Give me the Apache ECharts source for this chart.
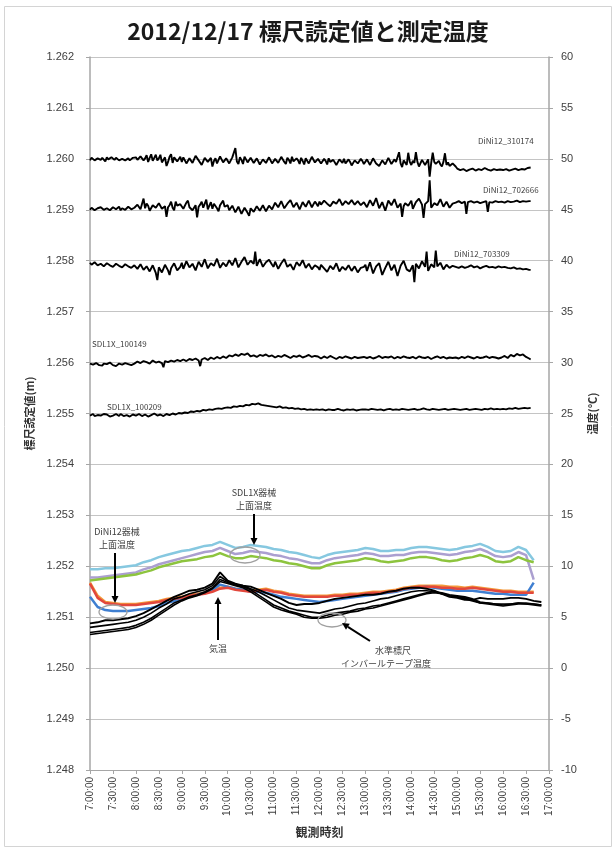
<!DOCTYPE html>
<html>
<head>
<meta charset="utf-8">
<script src="https://cdn.jsdelivr.net/npm/echarts/dist/echarts.min.js"></script>
<style>
html, body { margin: 0; padding: 0; background: #ffffff; }
#chart { width: 616px; height: 852px; }
</style>
</head>
<body>
<div id="chart"></div>
<script>
// ---- Staff readings (m), sampled every 2 minutes from 7:00 to 16:36 ----
// Each array holds the deviation from the instrument's nominal reading, in 0.01 mm.
const readingStartMin = 420;
const readingStepMin = 2;

const nominalDini310174 = 1.2600;
const devDini310174 = [
  -3,2,1,-3,-4,1,0,-2,2,-1, -5,3,-1,-4,3,0,-2,2,1,-3, -4,0,2,-3,-1,1,-3,-1,2,0,
  3,-2,-4,5,6,-3,1,7,-6,2, 9,-4,2,8,-3,1,8,-7,-5,3, -14,-6,4,9,-8,3,6,-5,-2,4,
  -6,3,4,-9,-10,1,2,-8,-7,6, 5,-3,-4,-12,-11,2,3,-6,-8,2, -15,-4,1,-9,-6,5,4,-7,-9,1,
  -2,-9,-8,3,6,21,-5,-10,3,-2, -10,4,-1,-7,-7,2,5,-8,-9,1, -2,-11,-12,-1,2,-8,-6,3,-3,-9,
  -9,0,1,-8,-7,4,3,-6,-10,2, -2,-9,4,-5,-8,1,-3,-10,2,-4, -11,1,-1,-9,-6,4,3,-7,-8,0,
  -2,-9,-10,0,-4,-11,1,-6,-9,-2, -5,-12,-12,-1,-3,-8,0,-9,-8,-1, -6,-13,-11,-3,-2,-9,-7,0,-4,-10,
  -10,-1,-3,-12,-13,1,0,-9,-8,-14, -15,-3,-2,-11,-9,2,4,-10,-12,-1, -6,-4,13,-9,-16,-3,-5,-12,12,-6,
  -12,-4,-8,13,-6,-15,-14,-2,-3,-12, -9,-1,-35,-8,12,-6,-10,-13,-4,-11, -15,-6,11,-12,-7,-14,-13,-9,-9,-15,
  -19,-22,-22,-20,-20,-23,-24,-21,-21,-19, -19,-22,-23,-20,-20,-22,-22,-19,-18,-21, -21,-23,-23,-20,-20,-22,-22,-20,-21,-23,
  -22,-20,-20,-23,-23,-21,-21,-19,-19,-22, -22,-20,-20,-21,-21,-19,-18,-17,-17
];

const nominalDini702666 = 1.2590;
const devDini702666 = [
  0,4,3,-1,-1,3,2,5,4,0, 0,3,3,-1,1,5,5,1,2,6, -1,3,4,0,2,6,6,1,3,4,
  5,10,9,1,-2,22,3,12,8,-2, -2,9,11,4,6,13,14,2,1,7, -14,5,9,16,4,-1,16,8,7,11,
  12,2,3,14,18,5,6,-1,-1,9, -15,6,10,16,4,12,20,1,8,15, 2,12,15,3,-3,9,11,18,6,4,
  9,-1,0,8,7,-5,-4,6,5,-8, -8,4,2,-6,-12,3,6,-4,-3,7, 8,-2,1,9,10,-3,-2,8,7,1,
  4,14,13,5,7,17,16,3,2,12, 11,19,18,5,6,14,12,1,3,15, 14,6,9,18,17,5,8,16,12,7,
  16,10,11,18,19,12,13,7,8,16, 17,12,14,21,20,9,10,17,15,11, 12,19,18,10,13,17,16,9,11,15,
  15,5,6,19,20,8,9,23,22,3, 4,15,14,-2,-1,18,17,9,10,21, 20,4,5,12,-14,7,13,16,8,11,
  18,2,3,15,14,22,21,10,-16,11, 9,17,58,4,2,13,16,9,12,21, 20,6,7,16,15,4,5,12,11,14,
  14,17,16,13,13,16,-8,15,15,17, 17,14,14,16,16,13,13,15,15,17, -4,15,16,14,14,17,17,15,15,16,
  16,14,14,17,17,15,15,16,16,18, 18,15,15,17,17,16,16,17,17
];

const nominalDini703309 = 1.2580;
const devDini703309 = [
  -4,-8,-7,-3,-3,-9,-10,-6,-6,-11, -10,-5,-5,-9,-8,-12,-11,-6,-6,-10, -9,-13,-12,-7,-7,-11,-10,-14,-13,-9,
  -9,-16,-15,-7,-8,-18,-17,-11,-12,-21, -20,-9,-10,-24,-38,-13,-14,-23,-22,-8, -9,-19,-28,-15,-16,-5,-6,-19,-18,-12,
  -4,-16,-15,-1,-2,-13,-12,-6,-7,-19, -18,-2,-3,-12,-11,3,2,-15,-14,-5, -6,-10,-9,4,3,-14,-13,-4,-5,-11,
  -10,1,0,-9,-8,5,4,-13,-12,-2, -3,7,6,-8,-7,0,-1,-6,18,-10, -9,3,2,-12,-11,-3,-4,2,1,-8,
  -12,-2,-3,-16,-15,-5,-6,3,2,-12, -11,-7,-8,-18,-17,-3,-4,-10,-9,1, 0,-14,-13,-6,-7,-17,-16,-9,-10,-13,
  -18,-8,-9,-15,-14,-22,-21,-10,-11,-17, -16,-5,-6,-21,-20,-12,-13,-18,-17,-9, -10,-20,-19,-11,-12,-23,-22,-14,-15,-12,
  -8,-20,-19,-3,-4,-25,-24,-11,-12,-5, -6,-28,-27,-14,-15,-2,-3,-19,-18,-8, -9,-30,-29,-10,-11,0,-1,-17,-16,-21,
  -20,-9,-42,-6,-7,-15,-14,-1,-2,-12, 18,-20,-19,-7,-8,-13,20,-11,-12,-4, -5,-17,-16,-8,-9,-14,-13,-10,-11,-12,
  -10,-14,-13,-11,-11,-14,-14,-12,-12,-9, -9,-13,-13,-11,-11,-15,-15,-12,-12,-10, -10,-13,-13,-12,-12,-14,-14,-11,-11,-13,
  -13,-12,-12,-14,-14,-15,-15,-13,-13,-16, -16,-15,-15,-17,-17,-16,-16,-18,-18
];

const nominalSdl100149 = 1.2560;
const devSdl100149 = [
  -2,-5,-4,-1,-1,-4,-5,-6,-6,-2, -2,-3,-3,0,0,-5,-6,-7,-6,-2, -2,-4,-3,-1,-1,-3,-4,-5,-5,-2,
  0,2,2,-1,-1,3,3,1,1,-2, -2,4,4,0,0,2,2,-1,-9,3, 3,1,1,4,4,2,2,5,5,3,
  4,6,6,3,3,7,7,5,5,8, 8,4,-7,6,6,9,9,5,5,10, 10,7,7,11,11,8,8,12,12,9,
  10,14,14,12,12,16,16,13,13,17, 20,15,15,18,18,12,12,14,14,11, 11,15,15,13,13,16,16,12,12,14,
  14,10,10,13,13,11,11,15,15,12, 12,9,9,13,13,11,11,14,14,10, 10,12,12,15,15,11,11,13,13,12,
  11,8,8,12,12,9,9,13,13,10, 10,7,7,11,11,9,9,12,12,10, 10,8,8,11,11,9,9,10,10,11,
  12,9,9,11,11,8,8,10,10,13, 13,9,9,11,11,10,10,12,12,8, 8,11,11,9,9,12,12,10,10,9,
  9,11,11,8,8,12,12,10,10,9, 9,11,11,7,7,10,10,12,12,9, 9,11,11,8,8,10,10,9,9,10,
  10,8,8,11,11,9,9,12,12,10, 10,8,8,11,11,9,9,10,10,12, 12,9,9,11,11,10,10,8,8,10,
  11,13,13,9,9,15,15,12,12,17, 17,14,14,16,16,11,11,8,6
];

const nominalSdl100209 = 1.2550;
const devSdl100209 = [
  -4,-2,-1,-5,-6,-3,-2,-4,-5,-1, 0,-2,-3,-6,-7,-4,-2,-1,-4,-5, -1,-2,-5,-4,-3,-5,-6,-3,-2,-4,
  -4,-2,-1,-3,-5,-4,-2,-3,-6,-5, -3,-1,0,-3,-4,-3,-2,-4,-5,-3, -1,-2,-3,-1,0,-1,-2,-1,1,0,
  0,1,2,2,1,3,4,5,3,4, 5,6,4,5,7,8,6,7,8,9, 7,8,9,10,10,11,9,10,11,12,
  12,13,11,12,14,15,13,14,15,16, 14,15,17,18,16,17,19,20,18,19, 20,19,17,18,16,17,15,16,14,15,
  13,14,12,13,14,12,11,12,12,11, 10,11,11,10,9,10,10,9,8,9, 9,8,7,8,8,7,7,8,8,9,
  7,8,8,7,6,7,8,9,7,8, 7,6,9,8,7,6,6,7,8,7, 7,9,8,6,6,7,7,8,8,7,
  8,7,7,8,9,8,8,7,7,8, 8,9,6,7,8,9,9,8,7,8, 8,7,7,8,9,8,8,7,7,8,
  8,9,9,8,7,8,8,9,10,9, 8,7,7,8,9,8,8,7,7,8, 8,9,9,8,7,8,8,9,9,8,
  8,7,7,8,8,9,9,7,7,8, 8,9,9,8,8,7,7,9,9,8, 8,10,10,8,8,9,9,8,8,9,
  9,8,8,10,10,9,9,11,11,9, 9,10,10,11,11,10,10,11,11
];

// ---- Temperatures (°C), sampled every 10 minutes from 7:00 ----
const tempStartMin = 420;
const tempStepMin = 10;

const sdlTopCyan = [
  9.7,9.7,9.8,9.8,9.9,10.0, 10.1,10.4,10.6,10.9,11.1,11.3,
  11.5,11.6,11.8,12.0,12.1,12.4, 12.1,11.8,11.9,12.1,12.0,11.9,
  11.7,11.6,11.4,11.3,11.1,10.9, 10.8,11.1,11.3,11.4,11.5,11.6,
  11.8,11.7,11.5,11.5,11.6,11.6, 11.8,11.9,11.9,11.8,11.7,11.6,
  11.7,11.9,12.0,12.2,11.9,11.5, 11.4,11.5,11.9,11.6,10.6
];
const sdlTopPurple = [
  8.9,8.9,9.0,9.1,9.2,9.3, 9.4,9.7,9.9,10.2,10.4,10.6,
  10.8,11.0,11.2,11.4,11.5,11.8, 11.5,11.2,11.3,11.5,11.4,11.3,
  11.1,11.0,10.8,10.7,10.5,10.3, 10.3,10.6,10.8,10.9,11.0,11.1,
  11.3,11.2,11.0,11.0,11.1,11.1, 11.3,11.4,11.4,11.3,11.2,11.1,
  11.2,11.4,11.5,11.7,11.4,11.0, 10.9,11.0,11.4,11.1,8.7
];
const sdlTopGreen = [
  8.6,8.7,8.8,8.9,9.0,9.1, 9.2,9.4,9.6,9.9,10.1,10.3,
  10.5,10.6,10.7,10.9,11.0,11.3, 11.0,10.8,10.8,11.0,10.9,10.8,
  10.6,10.5,10.3,10.2,10.0,9.8, 9.8,10.1,10.3,10.4,10.5,10.6,
  10.8,10.7,10.5,10.4,10.5,10.6, 10.8,10.9,10.9,10.8,10.6,10.5,
  10.6,10.8,10.9,11.1,10.9,10.5, 10.4,10.5,10.9,10.6,10.4
];
const diniTopOrange = [
  8.4,7.1,6.5,6.4,6.3,6.3, 6.3,6.4,6.5,6.6,6.8,6.9,
  7.0,7.2,7.3,7.4,7.6,7.9, 8.0,7.8,7.7,7.6,7.7,7.8,
  7.6,7.5,7.3,7.2,7.1,7.1, 7.1,7.1,7.2,7.2,7.3,7.3,
  7.4,7.5,7.5,7.6,7.7,7.9, 8.0,8.1,8.1,8.1,8.1,8.0,
  8.0,7.9,8.0,7.9,7.8,7.7, 7.6,7.6,7.5,7.5,7.5
];
const diniTopRed = [
  8.3,6.9,6.4,6.3,6.2,6.2, 6.2,6.3,6.4,6.5,6.7,6.8,
  6.9,7.1,7.2,7.3,7.5,7.8, 7.9,7.7,7.6,7.5,7.6,7.7,
  7.5,7.4,7.2,7.1,7.0,7.0, 7.0,7.0,7.1,7.1,7.2,7.2,
  7.3,7.4,7.4,7.5,7.6,7.8, 7.9,8.0,8.0,8.0,7.9,7.9,
  7.8,7.8,7.9,7.8,7.7,7.6, 7.5,7.5,7.4,7.4,7.4
];
const diniTopBlue = [
  7.0,6.0,5.7,5.6,5.6,5.6, 5.7,5.8,5.9,6.1,6.4,6.6,
  6.8,7.0,7.2,7.4,7.7,8.2, 8.0,7.8,7.7,7.5,7.5,7.4,
  7.2,7.0,6.9,6.8,6.7,6.6, 6.5,6.6,6.7,6.8,6.9,7.0,
  7.1,7.2,7.3,7.4,7.5,7.7, 7.8,7.9,8.0,7.9,7.8,7.7,
  7.6,7.6,7.6,7.5,7.4,7.3, 7.3,7.2,7.2,7.2,8.4
];
const airTemp = [
  4.4,4.5,4.7,4.7,4.8,4.9, 5.1,5.4,5.8,6.2,6.6,7.0,
  7.3,7.6,7.7,7.9,8.3,9.4, 8.6,8.3,8.1,8.0,7.7,7.4,
  7.1,6.8,6.4,6.2,6.3,6.3, 6.4,6.6,6.8,6.9,7.0,7.1,
  7.2,7.2,7.3,7.5,7.6,7.8, 7.9,7.9,7.8,7.6,7.3,7.0,
  6.9,6.7,6.7,6.9,6.8,6.8, 6.8,6.9,6.9,6.8,6.6,6.5
];
const invarTape1 = [
  4.0,4.1,4.2,4.3,4.4,4.5, 4.7,5.0,5.4,5.9,6.3,6.8,
  7.0,7.3,7.5,7.7,8.1,9.0, 8.5,8.2,8.1,7.8,7.5,7.1,
  6.7,6.3,5.9,5.7,5.6,5.5, 5.4,5.6,5.8,5.9,6.1,6.3,
  6.4,6.6,6.8,6.9,7.1,7.3, 7.5,7.6,7.6,7.5,7.3,7.1,
  7.0,6.8,6.6,6.4,6.4,6.3, 6.3,6.3,6.4,6.3,6.3,6.2
];
const invarTape2 = [
  3.5,3.6,3.7,3.8,3.9,4.0, 4.2,4.5,4.9,5.4,5.9,6.4,
  6.7,7.0,7.2,7.5,7.9,8.7, 8.4,8.2,8.0,7.7,7.2,6.7,
  6.2,5.9,5.6,5.4,5.2,5.0, 5.0,5.2,5.4,5.5,5.6,5.8,
  5.9,6.1,6.2,6.4,6.6,6.8, 7.0,7.2,7.4,7.5,7.4,7.2,
  7.1,7.0,6.8,6.5,6.4,6.3, 6.2,6.3,6.4,6.4,6.3,6.2
];
const invarTape3 = [
  3.3,3.4,3.5,3.6,3.7,3.8, 4.0,4.3,4.7,5.2,5.7,6.2,
  6.6,6.9,7.1,7.4,7.8,8.5, 8.3,8.1,7.9,7.5,7.0,6.5,
  6.0,5.7,5.5,5.3,5.0,4.9, 4.9,5.0,5.2,5.3,5.5,5.6,
  5.8,5.9,6.1,6.3,6.5,6.7, 6.9,7.1,7.3,7.4,7.3,7.1,
  7.0,6.9,6.7,6.4,6.3,6.2, 6.1,6.2,6.3,6.3,6.2,6.1
];

// ---- Axis ranges ----
const xMinMin = 420, xMaxMin = 1020, xTickMin = 30;
const leftMin = 1.248, leftMax = 1.262, leftStep = 0.001;
const rightMin = -10, rightMax = 60, rightStep = 5;

function readingPairs(nominal, devs) {
  return devs.map((d, i) => [readingStartMin + i * readingStepMin, +(nominal + d / 100000).toFixed(5)]);
}
function tempPairs(values) {
  return values.map((v, i) => [tempStartMin + i * tempStepMin, v]);
}
function fmtTime(m) {
  const h = Math.floor(m / 60), mm = m % 60;
  return h + ':' + (mm < 10 ? '0' : '') + mm + ':00';
}

const CJK = '"Noto Sans CJK JP", "Noto Sans", sans-serif';
const LAT = '"Liberation Sans", Arial, sans-serif';
const axisGray = '#a6a6a6';

function tempLine(name, values, color, width, z) {
  return {
    name, type: 'line', yAxisIndex: 1, data: tempPairs(values),
    showSymbol: false, symbol: 'none', z,
    lineStyle: { color, width }, itemStyle: { color }, animation: false
  };
}
function readingLine(name, nominal, devs) {
  return {
    name, type: 'line', yAxisIndex: 0, data: readingPairs(nominal, devs),
    showSymbol: false, symbol: 'none', z: 5,
    lineStyle: { color: '#000000', width: 1.9 }, itemStyle: { color: '#000' }, animation: false
  };
}

const chart = echarts.init(document.getElementById('chart'), null, { renderer: 'canvas' });

function label(text, x, y, size, align) {
  return {
    type: 'text', x, y, z: 50,
    style: { text, fill: '#404040', font: size + 'px ' + CJK, textAlign: align || 'left', textVerticalAlign: 'middle' }
  };
}
function arrow(x1, y1, x2, y2) {
  const a = Math.atan2(y2 - y1, x2 - x1), L = 7, W = 3.5;
  const bx = x2 - L * Math.cos(a), by = y2 - L * Math.sin(a);
  return [
    { type: 'line', z: 50, shape: { x1, y1, x2: bx, y2: by }, style: { stroke: '#000', lineWidth: 2 } },
    { type: 'polygon', z: 50, shape: { points: [[x2, y2], [bx + W * Math.sin(a), by - W * Math.cos(a)], [bx - W * Math.sin(a), by + W * Math.cos(a)]] }, style: { fill: '#000' } }
  ];
}
function ring(cx, cy, rx, ry) {
  return { type: 'ellipse', z: 50, shape: { cx, cy, rx, ry }, style: { fill: 'rgba(0,0,0,0)', stroke: '#a0a0a0', lineWidth: 1.3 } };
}

const option = {
  backgroundColor: '#ffffff',
  animation: false,
  title: {
    text: '2012/12/17 標尺読定値と測定温度',
    left: 'center', top: 15,
    textStyle: { fontFamily: CJK, fontSize: 23, fontWeight: 'bold', color: '#1a1a1a' }
  },
  grid: { left: 90, right: 67, top: 57, bottom: 82, outerBoundsMode: 'none', containLabel: false },
  xAxis: {
    type: 'value', min: xMinMin, max: xMaxMin, interval: xTickMin,
    name: '観測時刻', nameLocation: 'middle', nameGap: 56,
    nameTextStyle: { fontFamily: CJK, fontSize: 12, fontWeight: 'bold', color: '#333' },
    axisLine: { show: true, onZero: false, lineStyle: { color: axisGray, width: 1.2 } },
    axisTick: { show: true, length: 4, lineStyle: { color: axisGray } },
    splitLine: { show: false },
    axisLabel: { rotate: 90, margin: 7, fontFamily: LAT, fontSize: 10, color: '#404040', formatter: fmtTime, showMinLabel: true, showMaxLabel: true }
  },
  yAxis: [
    {
      type: 'value', min: leftMin, max: leftMax, interval: leftStep, position: 'left',
      name: '標尺読定値(m)', nameLocation: 'middle', nameGap: 52, nameRotate: 90,
      nameTextStyle: { fontFamily: CJK, fontSize: 11, fontWeight: 'bold', color: '#333' },
      axisLine: { show: true, lineStyle: { color: axisGray, width: 1.5 } },
      axisTick: { show: true, inside: false, length: 4, lineStyle: { color: axisGray } },
      splitLine: { show: true, lineStyle: { color: '#c4c4c4', width: 1 } },
      axisLabel: { margin: 16, fontFamily: LAT, fontSize: 11, color: '#404040', formatter: v => v.toFixed(3), showMinLabel: true, showMaxLabel: true }
    },
    {
      type: 'value', min: rightMin, max: rightMax, interval: rightStep, position: 'right',
      name: '温度(°C)', nameLocation: 'middle', nameGap: 30, nameRotate: 90,
      nameTextStyle: { fontFamily: CJK, fontSize: 11, fontWeight: 'bold', color: '#333' },
      axisLine: { show: true, lineStyle: { color: axisGray, width: 1.5 } },
      axisTick: { show: true, length: 4, lineStyle: { color: axisGray } },
      splitLine: { show: false },
      axisLabel: { margin: 12, fontFamily: LAT, fontSize: 11, color: '#404040', showMinLabel: true, showMaxLabel: true }
    }
  ],
  series: [
    tempLine('SDL1X器械上面温度 1', sdlTopCyan, '#86c8e0', 2.5, 2),
    tempLine('SDL1X器械上面温度 2', sdlTopPurple, '#ab9fd0', 2.5, 2),
    tempLine('SDL1X器械上面温度 3', sdlTopGreen, '#8dc43e', 2.5, 2),
    tempLine('DiNi12器械上面温度 1', diniTopOrange, '#f39a3a', 2.5, 2),
    tempLine('DiNi12器械上面温度 2', diniTopBlue, '#3f7fd1', 2.5, 2),
    tempLine('DiNi12器械上面温度 3', diniTopRed, '#e2473c', 2.5, 2),
    tempLine('インバールテープ温度 1', invarTape1, '#000000', 1.6, 3),
    tempLine('インバールテープ温度 2', invarTape2, '#000000', 1.6, 3),
    tempLine('インバールテープ温度 3', invarTape3, '#000000', 1.6, 3),
    tempLine('気温', airTemp, '#000000', 1.9, 3),
    readingLine('DiNi12_310174', nominalDini310174, devDini310174),
    readingLine('DiNi12_702666', nominalDini702666, devDini702666),
    readingLine('DiNi12_703309', nominalDini703309, devDini703309),
    readingLine('SDL1X_100149', nominalSdl100149, devSdl100149),
    readingLine('SDL1X_100209', nominalSdl100209, devSdl100209)
  ],
  graphic: [
    { type: 'rect', z: -10, shape: { x: 4.5, y: 6.5, width: 607, height: 840 }, style: { fill: 'rgba(0,0,0,0)', stroke: '#d4d4d4', lineWidth: 1 } },
    label('DiNi12_310174', 478, 141, 8),
    label('DiNi12_702666', 483, 190, 8),
    label('DiNi12_703309', 454, 254, 8),
    label('SDL1X_100149', 92, 344, 8),
    label('SDL1X_100209', 107, 407, 8),
    label('SDL1X器械', 254, 493, 9, 'center'),
    label('上面温度', 254, 506, 9, 'center'),
    ...arrow(254, 514, 254, 545),
    ring(245, 555, 15, 8),
    label('DiNi12器械', 117, 532, 9, 'center'),
    label('上面温度', 117, 545, 9, 'center'),
    ...arrow(115, 553, 115, 603),
    ring(113, 612, 14, 7),
    label('気温', 218, 649, 9, 'center'),
    ...arrow(218, 640, 218, 597),
    ring(332, 620, 14, 7),
    ...arrow(370, 641, 342, 623),
    label('水準標尺', 393, 651, 9, 'center'),
    label('インバールテープ温度', 386, 664, 9, 'center')
  ]
};

chart.setOption(option);
</script>
</body>
</html>
